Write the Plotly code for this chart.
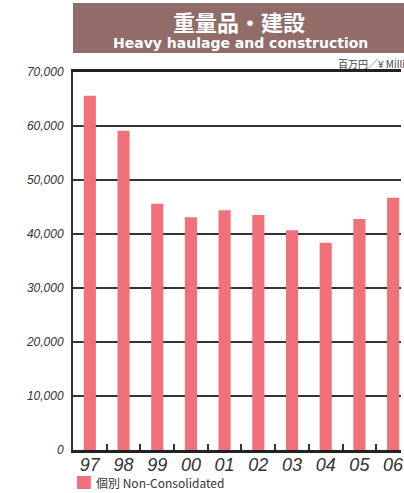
import plotly.graph_objects as go

years = ["97", "98", "99", "00", "01", "02", "03", "04", "05", "06"]
values = [65600, 59100, 45600, 43100, 44400, 43500, 40700, 38400, 42800, 46700]
y_ticks = [0, 10000, 20000, 30000, 40000, 50000, 60000, 70000]
y_tick_text = ["0", "10,000", "20,000", "30,000", "40,000", "50,000", "60,000", "70,000"]

title_jp = "重量品・建設"
title_en = "Heavy haulage and construction"
unit_text = "百万円／¥ Millions of yen"
legend_text = "個別 Non-Consolidated"

BAR = "#f1717b"
BANNER = "#916c68"
DARK = "#333333"
NARROW = "Liberation Sans Narrow, Liberation Sans, Arial, sans-serif"

fig = go.Figure()
fig.add_trace(go.Bar(x=years, y=values, marker_color=BAR, marker_line_width=0,
                     width=0.36, showlegend=False, hoverinfo="skip"))

fig.update_layout(
    width=404, height=493, autosize=False,
    margin=dict(l=73, r=0, t=72, b=43, pad=0),
    plot_bgcolor="white", paper_bgcolor="white",
    xaxis=dict(type="category", range=[-0.5, 9.235], tickson="boundaries",
               ticks="inside", ticklen=6, tickwidth=1.5, tickcolor=DARK,
               showline=True, linecolor="#222", linewidth=2.5, mirror=True,
               showgrid=False, ticklabelstandoff=-3,
               tickfont=dict(family=NARROW, size=18, color=DARK, style="italic")),
    yaxis=dict(range=[0, 70000], tickvals=y_ticks, ticktext=y_tick_text,
               showgrid=True, gridcolor=DARK, gridwidth=1.5, zeroline=False,
               showline=True, linecolor=DARK, linewidth=2, ticks="",
               ticklabelstandoff=5,
               tickfont=dict(family=NARROW, size=12, color=DARK, style="italic")),
    shapes=[
        dict(type="rect", xref="paper", yref="paper", x0=0, x1=1.1,
             y0=(450 - 53) / 378, y1=(450 - 3) / 378,
             fillcolor=BANNER, line_width=0, layer="below"),
        dict(type="rect", xref="paper", yref="paper",
             x0=(77 - 73) / 331, x1=(91 - 73) / 331,
             y0=(450 - 489) / 378, y1=(450 - 476) / 378,
             fillcolor=BAR, line_width=0),
    ],
    annotations=[
        dict(text=title_jp, xref="paper", yref="paper", x=(241 - 73) / 331,
             y=(450 - 21) / 378, xanchor="center", yanchor="middle", showarrow=False,
             font=dict(family="Noto Sans CJK JP", size=22, color="white", weight="bold")),
        dict(text=title_en, xref="paper", yref="paper", x=(242 - 73) / 331,
             y=(450 - 43) / 378, xanchor="center", yanchor="middle", showarrow=False,
             font=dict(family="DejaVu Sans", size=14, color="white", weight="bold")),
        dict(text=unit_text, xref="paper", yref="paper", x=(338 - 73) / 331,
             y=(450 - 63) / 378, xanchor="left", yanchor="middle", showarrow=False,
             font=dict(family="Noto Sans CJK JP", size=10, color="#444")),
        dict(text=legend_text, xref="paper", yref="paper", x=(94 - 73) / 331,
             y=(450 - 482.5) / 378, xanchor="left", yanchor="middle", showarrow=False,
             font=dict(family="Noto Sans CJK JP", size=12, color=DARK)),
    ],
)

fig.write_html("out.html", config={"displayModeBar": False},
               post_script="document.body.style.margin='0';document.body.style.overflow='hidden';")
